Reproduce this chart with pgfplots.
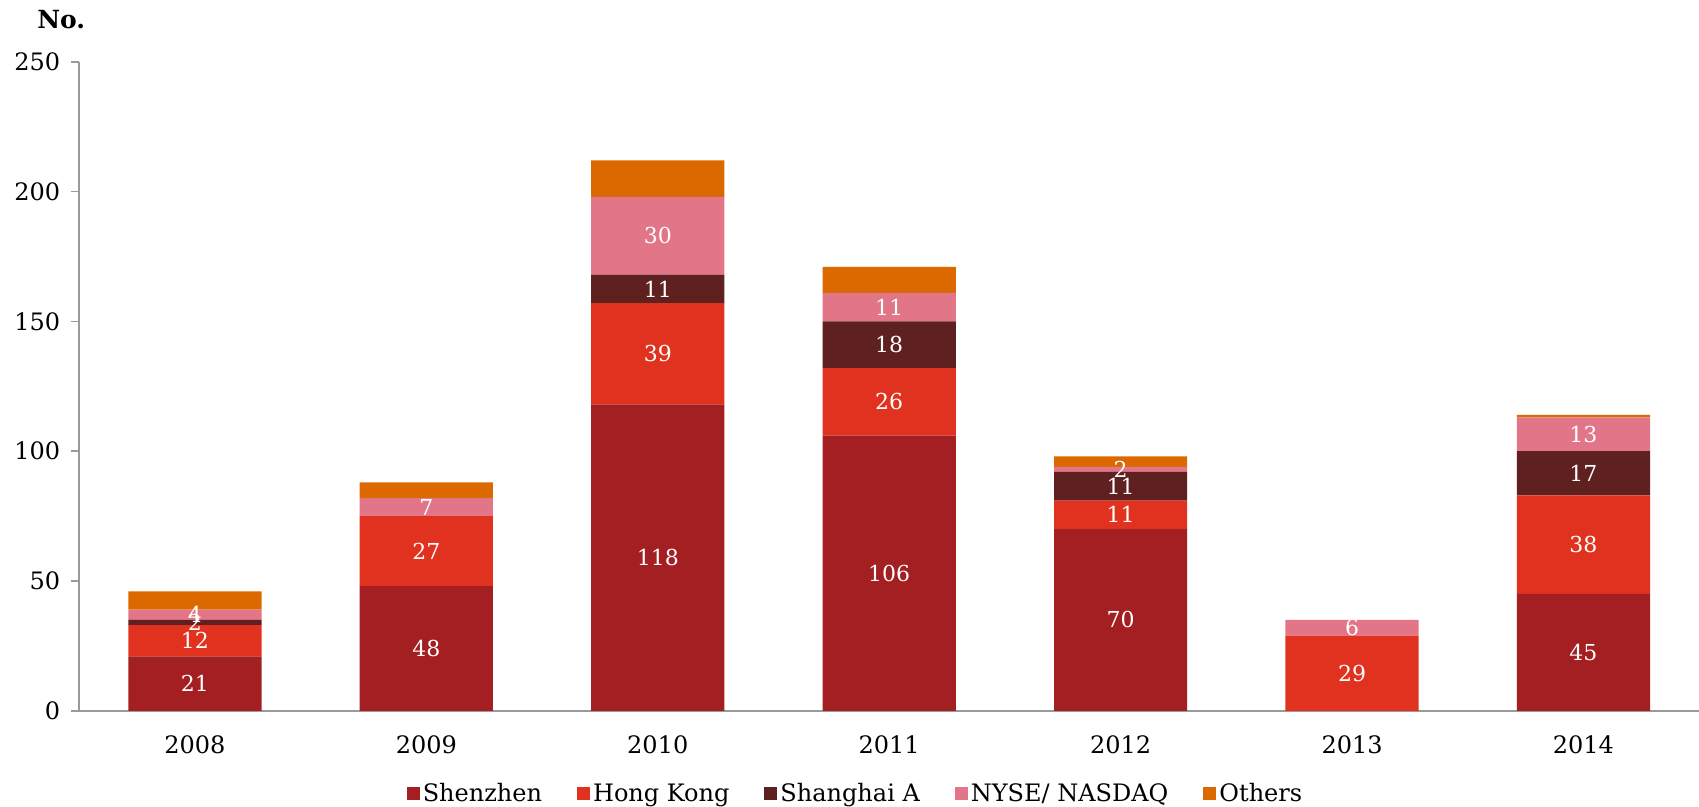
\documentclass[border=0pt]{standalone}
\usepackage{pgfplots}
\pgfplotsset{compat=1.18}
\usepackage{pgfplotstable}
\usepackage{fontspec}
\setmainfont{DejaVu Serif}
\definecolor{szc}{HTML}{A31F21}
\definecolor{hkc}{HTML}{E0321F}
\definecolor{shc}{HTML}{5F2020}
\definecolor{nyc}{HTML}{E27588}
\definecolor{otc}{HTML}{DB6900}
\definecolor{axc}{HTML}{9A9A9A}
\pgfplotstableread{
x sz hk sh ny ot
0 21 12 2 4 7
1 48 27 0 7 6
2 118 39 11 30 14
3 106 26 18 11 10
4 70 11 11 2 4
5 0 29 0 6 0
6 45 38 17 13 1
}\data
\pgfplotsset{
  common/.style={
    scale only axis, width=810pt, height=324.5pt,
    at={(0pt,0pt)}, anchor=south west,
    xmin=-0.5, xmax=6.5, ymin=0, ymax=250,
  }
}
\begin{document}
\begin{tikzpicture}
\begin{axis}[common,
  ybar stacked, bar width=66.6pt,
  axis x line*=bottom, axis y line*=left,
  axis line style={axc, line width=0.8pt},
  ytick={0,50,100,150,200,250},
  xtick={0,...,6},
  xticklabels={2008,2009,2010,2011,2012,2013,2014},
  x tick style={draw=none},
  y tick style={axc, line width=0.8pt},
  major tick length=4pt, tick align=outside,
  /pgf/number format/assume math mode=true,
  tick label style={font=\fontsize{12}{14}\selectfont},
  xticklabel style={yshift=-5pt},
  yticklabel style={xshift=-2pt},
  legend style={at={(0.4795,0)}, anchor=center, yshift=-41.6pt, draw=none,
    font=\fontsize{12}{14}\selectfont, legend columns=5,
    /tikz/every even column/.append style={column sep=16pt},
    nodes={inner sep=1.5pt}},
  legend image code/.code={\fill[#1] (0pt,-3pt) rectangle (6.5pt,3.5pt);},
  clip=false,
]
\addplot[fill=szc, draw=none] table[x=x, y=sz] {\data};
\addplot[fill=hkc, draw=none] table[x=x, y=hk] {\data};
\addplot[fill=shc, draw=none] table[x=x, y=sh] {\data};
\addplot[fill=nyc, draw=none] table[x=x, y=ny] {\data};
\addplot[fill=otc, draw=none] table[x=x, y=ot] {\data};
\legend{Shenzhen, Hong Kong, Shanghai A, NYSE/ NASDAQ, Others}
\node[anchor=west, font=\bfseries\fontsize{12.5}{14}\selectfont] at (axis description cs:0,1) [xshift=-24.5pt, yshift=21pt] {No.};
\end{axis}
\begin{axis}[common, hide axis,
  nodes near coords, point meta=explicit,
  every node near coord/.append style={anchor=center, text=white, font=\fontsize{11}{13}\selectfont},
  /pgf/number format/assume math mode=true,
]
\addplot[draw=none, mark=none, skip coords between index={5}{6}] table[x=x, y expr=\thisrow{sz}/2, meta=sz] {\data};
\addplot[draw=none, mark=none] table[x=x, y expr=\thisrow{sz}+\thisrow{hk}/2, meta=hk] {\data};
\addplot[draw=none, mark=none, skip coords between index={1}{2}, skip coords between index={5}{6}] table[x=x, y expr=\thisrow{sz}+\thisrow{hk}+\thisrow{sh}/2, meta=sh] {\data};
\addplot[draw=none, mark=none] table[x=x, y expr=\thisrow{sz}+\thisrow{hk}+\thisrow{sh}+\thisrow{ny}/2, meta=ny] {\data};
\end{axis}
\pgfresetboundingbox
\path (-39.6pt,-48.1pt) rectangle (809.9pt,355.4pt);
\end{tikzpicture}
\end{document}
